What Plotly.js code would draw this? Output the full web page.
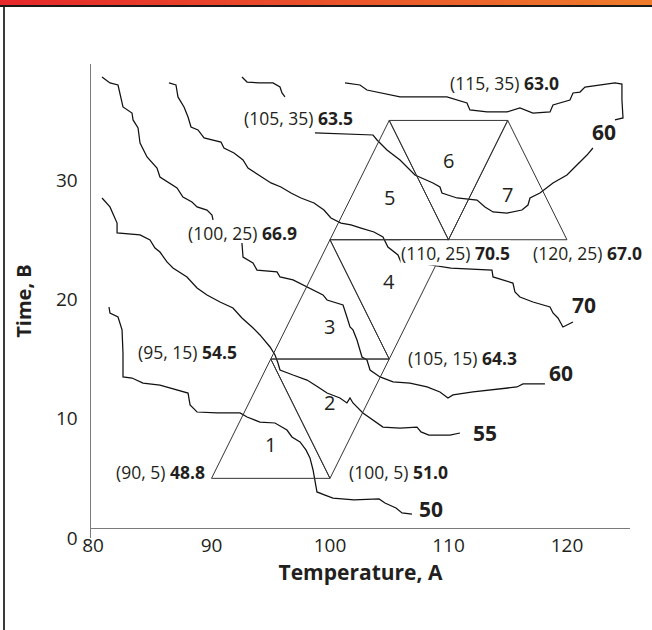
<!DOCTYPE html>
<html><head><meta charset="utf-8">
<script src="https://cdn.plot.ly/plotly-3.0.1.min.js"></script>
<style>
html,body{margin:0;padding:0;background:#fff;}
#wrap{position:relative;width:652px;height:630px;overflow:hidden;}
#chart{position:absolute;left:0;top:0;width:652px;height:630px;}
#bar{position:absolute;left:0;top:0;width:652px;height:5px;background:linear-gradient(to right,#e6282a,#ef7c2b);z-index:2}
#bar2{position:absolute;left:0;top:5px;width:652px;height:2px;background:#1a1a1a;z-index:2}
#lb{position:absolute;left:3px;top:7px;width:2px;height:623px;background:#3a3a3a;z-index:2}
</style></head>
<body>
<div id="wrap"><div id="chart"></div><div id="bar"></div><div id="bar2"></div><div id="lb"></div></div>
<script>
// ---- experiments (simplex vertices) ----
const expTemp = [90, 100, 95, 105, 100, 110, 105, 115, 120];
const expTime = [5, 5, 15, 15, 25, 25, 35, 35, 25];
const expResp = [48.8, 51.0, 54.5, 64.3, 66.9, 70.5, 63.5, 63.0, 67.0];
// simplexes as vertex indices
const simplexVerts = [[0,1,2],[2,1,3],[2,3,4],[4,3,5],[4,5,6],[6,5,7],[5,7,8]];
const simplexNames = ['1','2','3','4','5','6','7'];

// ---- axis ticks ----
const tempTicks = [80, 90, 100, 110, 120];
const timeTicks = [0, 10, 20, 30];

// ---- response contours (hand-drawn) ----
const contourLevels = ['50', '55', '60', '70', '60'];

const c50Temp = [81.35,81.43,82.11,82.45,82.53,82.53,83.29,84.22,85.65,86.75,88.02,88.19,88.78,90.46,92.41,93.00,94.09,95.36,96.37,96.79,97.47,97.97,98.31,98.57,98.73,98.90,99.58,100.25,102.03,104.14,104.64,105.57,106.08,106.92];
const c50Time = [19.36,18.86,18.52,17.44,15.51,13.50,13.41,12.99,12.82,12.49,12.15,11.15,10.56,10.48,10.48,10.14,9.72,9.64,9.05,8.47,8.05,7.38,6.71,5.70,4.86,3.86,3.60,3.35,3.19,3.27,2.93,2.51,2.10,2.01];

const c55Temp = [80.76,81.43,82.03,82.03,83.97,84.81,85.23,85.65,86.24,86.75,87.93,88.78,89.62,90.72,91.81,92.57,93.42,94.09,94.94,95.36,95.61,95.78,96.88,98.06,98.99,99.75,100.84,101.43,101.69,101.94,102.78,103.63,104.47,105.91,107.34,107.68,108.35,110.13,110.97];
const c55Time = [28.50,27.75,26.40,25.57,25.40,24.98,24.31,23.97,23.14,22.63,21.88,20.96,20.37,19.78,19.28,18.44,17.69,17.02,16.01,15.34,14.67,14.08,13.66,13.24,12.66,12.15,11.74,11.32,11.74,11.32,10.48,9.89,9.30,9.22,9.30,8.89,8.63,8.63,8.80];

const c60Temp = [80.76,81.43,82.11,82.28,82.53,83.29,83.38,83.80,83.97,84.56,85.40,85.65,86.50,87.09,87.59,88.35,88.78,89.62,90.04,90.13,null,92.57,92.66,93.50,93.84,95.53,95.78,96.88,98.06,99.41,99.75,101.10,101.43,101.69,101.94,102.28,102.70,103.12,103.38,104.22,105.32,106.75,108.19,109.28,109.96,110.38,112.07,114.35,115.78,116.29,118.14];
const c60Time = [38.64,38.14,37.97,37.30,36.13,35.62,35.04,34.37,33.11,31.94,31.01,30.26,29.76,29.34,28.58,28.16,27.75,27.49,27.07,26.66,null,24.73,23.55,23.05,22.46,22.30,21.88,21.63,21.04,20.37,19.95,19.53,18.52,17.69,17.44,16.60,15.17,14.92,14.08,13.50,13.08,12.99,12.66,12.24,11.74,11.99,12.24,12.49,12.66,12.91,12.91];

const c70Temp = [86.41,87.00,87.17,87.68,88.02,88.27,88.86,89.37,90.80,91.05,91.90,92.66,93.08,94.18,95.02,95.86,96.71,97.55,98.65,99.49,100.08,100.93,101.77,102.62,103.71,104.47,104.89,105.74,105.99,107.43,110.21,113.67,113.76,115.44,115.61,116.03,117.13,118.57,118.82,119.24,119.66,120.51];
const c70Time = [38.14,37.97,36.97,36.13,35.29,34.45,34.20,33.53,33.19,32.69,32.27,31.68,31.01,30.26,29.76,29.42,28.92,28.50,28.08,27.49,26.82,26.40,26.24,25.98,25.65,25.23,24.39,23.72,23.13,23.05,22.63,22.46,21.88,21.37,20.62,20.20,19.78,19.36,18.86,18.44,17.69,18.11];

const c60uTemp = [92.57,93.00,94.09,95.19,95.78,95.95,96.20,null,101.27,102.53,103.12,103.97,105.91,109.87,111.56,111.81,113.25,114.94,116.03,117.13,118.57,118.82,120.25,120.51,121.10,121.52,124.05,124.64,124.64,124.73,124.05,null,122.19,121.69,120.84,120.00,118.82,117.72,116.88,116.71,116.20,114.94,113.76,113.08,112.41,110.72,109.45,109.28,108.69,107.17,105.91,104.81,103.97,103.63,98.73];
const c60uTime = [38.64,38.22,38.14,38.14,37.80,37.30,36.97,null,38.14,37.97,37.55,37.38,36.97,36.97,36.46,35.88,35.71,35.71,36.04,35.62,35.71,36.30,36.71,37.30,37.38,37.80,38.14,38.05,36.71,35.21,35.04,null,32.69,32.10,31.27,30.43,29.76,28.92,28.50,27.91,27.49,27.24,27.33,27.75,28.33,28.50,28.92,29.42,29.76,30.43,31.68,32.52,33.36,33.78,33.95];

// ---- styling ----
const ink = '#231f20';
const FONT = 'Open Sans, Lato, sans-serif';
// label placement relative to vertex: [xanchor, xshift px, yshift px]
const vertexLabelStyle = [
  ['right', -6, 6], ['left', 18, 6], ['right', -33, 7], ['left', 18, 1],
  ['right', -32, 7], ['center', 7, -13], ['right', -35, 2], ['center', -3, 37], ['center', 21, -13]
];
const simplexLabelShift = [-6, -4, -7, -2, 2, 0, 5];
// contour level label: [anchor point ('end' or 'afterGap'), xshift, yshift]
const contourLabelStyle = [['end', 5, 5], ['end', 11, 0], ['end', 2, 11], ['end', -3, 17], ['afterGap', -3, 16]];

const contours = [[c50Temp, c50Time], [c55Temp, c55Time], [c60Temp, c60Time], [c70Temp, c70Time], [c60uTemp, c60uTime]];

const traces = [];
contours.forEach(([a, b]) => {
  traces.push({x: a, y: b, type: 'scatter', mode: 'lines', connectgaps: false,
    line: {color: '#111', width: 1.25}, hoverinfo: 'skip'});
});

// simplex triangles
const triX = [], triY = [];
simplexVerts.forEach(v => {
  [0,1,2,0].forEach(k => { triX.push(expTemp[v[k]]); triY.push(expTime[v[k]]); });
  triX.push(null); triY.push(null);
});
traces.push({x: triX, y: triY, type: 'scatter', mode: 'lines', line: {color: '#333', width: 1}, hoverinfo: 'skip'});

const annotations = [];
// vertex labels
expTemp.forEach((t, i) => {
  const s = vertexLabelStyle[i];
  annotations.push({x: t, y: expTime[i], xref: 'x', yref: 'y', showarrow: false,
    text: '(' + t + ', ' + expTime[i] + ') <b>' + expResp[i].toFixed(1) + '</b>',
    xanchor: s[0], yanchor: 'middle', xshift: s[1], yshift: s[2],
    font: {family: FONT, size: 17.5, color: ink},
    bgcolor: i === 5 ? 'rgba(255,255,255,1)' : 'rgba(0,0,0,0)', borderpad: 0});
});
// simplex numbers at centroids
simplexVerts.forEach((v, i) => {
  const cx = (expTemp[v[0]] + expTemp[v[1]] + expTemp[v[2]]) / 3;
  const cy = (expTime[v[0]] + expTime[v[1]] + expTime[v[2]]) / 3;
  annotations.push({x: cx, y: cy, xref: 'x', yref: 'y', showarrow: false, text: simplexNames[i],
    yshift: simplexLabelShift[i], font: {family: FONT, size: 20, color: ink}});
});
// contour level labels
contours.forEach(([a, b], i) => {
  const s = contourLabelStyle[i];
  let idx = a.length - 1;
  if (s[0] === 'afterGap') idx = a.lastIndexOf(null) + 1;
  annotations.push({x: a[idx], y: b[idx], xref: 'x', yref: 'y', showarrow: false,
    text: '<b>' + contourLevels[i] + '</b>', xanchor: 'left', yanchor: 'middle',
    xshift: s[1], yshift: s[2], font: {family: FONT, size: 21, color: ink}});
});

const layout = {
  width: 652, height: 630,
  margin: {l: 91, r: 22, t: 64, b: 92, pad: 0},
  paper_bgcolor: '#fff', plot_bgcolor: '#fff',
  showlegend: false,
  xaxis: {range: [79.83, 125.32], tickvals: tempTicks, showgrid: false, zeroline: false,
    showline: true, linecolor: '#7a7a7a', linewidth: 1.5, ticks: '', anchor: 'free', position: 0.0211,
    ticklabelstandoff: 0,
    tickfont: {family: FONT, size: 19, color: ink},
    title: {text: '<b>Temperature, A</b>', font: {family: FONT, size: 21, color: ink}, standoff: 8}},
  yaxis: {range: [0, 39.73], tickvals: timeTicks, showgrid: false, zeroline: false,
    showline: true, linecolor: '#7a7a7a', linewidth: 1.5, ticks: '',
    ticklabelstandoff: 8,
    tickfont: {family: FONT, size: 19, color: ink},
    title: {text: '<b>Time, B</b>', font: {family: FONT, size: 20, color: ink}, standoff: 19}},
  annotations: annotations
};

Plotly.newPlot('chart', traces, layout, {displayModeBar: false, staticPlot: true});
</script>
</body></html>
